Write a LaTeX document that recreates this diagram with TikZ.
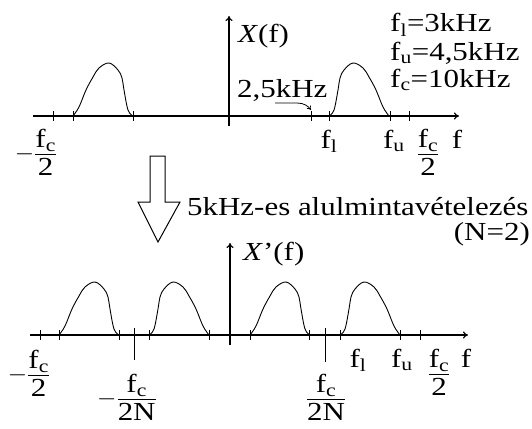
\documentclass[tikz,border=0pt]{standalone}
\usepackage{fontspec}
\setmainfont[FakeStretch=1.19]{Liberation Serif}
\usetikzlibrary{arrows.meta}
\newcommand{\fsub}[1]{f\textsubscript{#1}}
\newcommand{\tfr}[2]{\frac{\mbox{#1\rule[-6pt]{0pt}{6pt}}}{\mbox{\rule{0pt}{20.5pt}#2}}}
\begin{document}
\begin{tikzpicture}[x=1pt,y=-1pt,
  every node/.style={font=\fontsize{26}{28}\selectfont, inner sep=0pt},
  axis/.style={line width=1.2pt,-{To[length=5pt,width=7pt]}},
  tickline/.style={line width=1pt},
  bumpline/.style={line width=0.9pt},
  bumpA/.pic={\draw[bumpline] plot[smooth,tension=0.6] coordinates {(0,0) (5,-6) (9,-26) (11,-38) (15,-46) (24,-53) (34,-48) (40,-39) (47,-26) (54,-9) (60,0)};},
  bumpB/.pic={\draw[bumpline] plot[smooth,tension=0.6] coordinates {(0,0) (6,-9) (13,-26) (20,-39) (26,-48) (36,-53) (45,-46) (49,-38) (51,-26) (55,-6) (60,0)};},
]
\useasboundingbox (0,0) rectangle (532,428);

% ---------- top spectrum ----------
\coordinate (tA0) at (33,116);
\coordinate (tA1) at (459,116);
\coordinate (tV0) at (229,126);
\coordinate (tV1) at (229,16);
\draw[axis] (tA0) -- (tA1);
\draw[axis] (tV0) -- (tV1);
\foreach \x in {53,73,133,311,329,390,409}
  \draw[tickline] (\x,111) -- (\x,121);
\pic at (73,116) {bumpB};
\pic at (329,116) {bumpA};

\node[anchor=base west] (X) at (238,42) {\textit{X}(f)};
\node[anchor=base west] (k25) at (237,97) {2,5kHz};
\coordinate (k0) at (275,103);
\coordinate (k1) at (311,110);
\draw[line width=0.8pt,-{To[length=4pt,width=5pt]}] (k0) -- (297,103) .. controls (304,103) and (308,106) .. (k1);

\node[anchor=base west] (pl) at (390,32) {\fsub{l}=3kHz};
\node[anchor=base west] (pu) at (390,60) {\fsub{u}=4,5kHz};
\node[anchor=base west] (pc) at (390,87) {\fsub{c}=10kHz};

\node (tmfc) at (36,152) {$-\tfr{\fsub{c}}{2}$};
\node[anchor=base] (tfl) at (329,148) {\fsub{l}};
\node[anchor=base] (tfu) at (394,148) {\fsub{u}};
\node (tfc) at (428,152) {$\tfr{\fsub{c}}{2}$};
\node[anchor=base] (tf) at (457,148) {f};

% ---------- hollow arrow and caption ----------
\draw[line width=1pt] (150,156) -- (165,156) -- (165,202) -- (180,202) -- (158,242) -- (138,202) -- (150,202) -- cycle;
\node[anchor=base west] (cap) at (187,215) {5kHz-es alulmintavételezés};
\node[anchor=base east] (N2) at (530,240) {(N=2)};

% ---------- bottom spectrum ----------
\coordinate (bA0) at (30,335);
\coordinate (bA1) at (468,335);
\coordinate (bV0) at (230,345);
\coordinate (bV1) at (230,243);
\draw[axis] (bA0) -- (bA1);
\draw[axis] (bV0) -- (bV1);
\foreach \x in {40,59,119,149,209,250,309,340,400,420}
  \draw[tickline] (\x,330) -- (\x,340);
\draw[tickline] (134,328) -- (134,360);
\draw[tickline] (325,328) -- (325,362);
\pic at (59,335) {bumpB};
\pic at (149,335) {bumpA};
\pic at (250,335) {bumpB};
\pic at (340,335) {bumpA};

\node[anchor=base west] (Xp) at (243,260) {\textit{X}'(f)};
\node (bmfc) at (29,373) {$-\tfr{\fsub{c}}{2}$};
\node (bmfcN) at (127,397) {$-\tfr{\fsub{c}}{2N}$};
\node (bfcN) at (326,397) {$\tfr{\fsub{c}}{2N}$};
\node[anchor=base] (bfl) at (358,367) {\fsub{l}};
\node[anchor=base] (bfu) at (402,367) {\fsub{u}};
\node (bfc) at (439,372) {$\tfr{\fsub{c}}{2}$};
\node[anchor=base] (bf) at (466,367) {f};
\end{tikzpicture}
\end{document}
